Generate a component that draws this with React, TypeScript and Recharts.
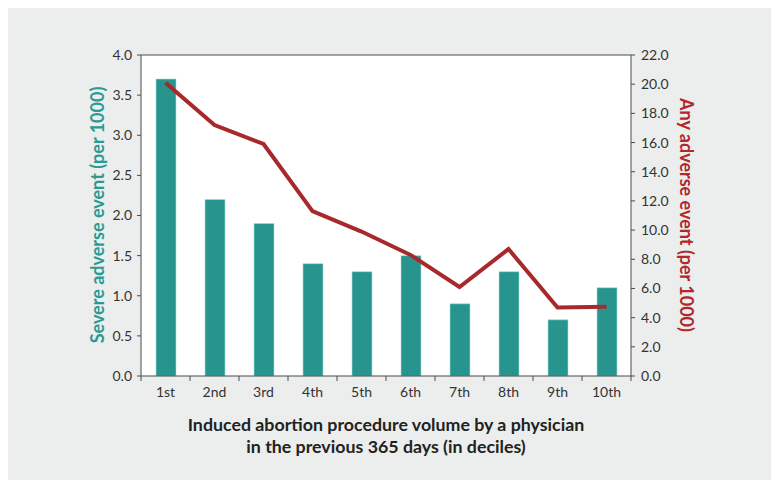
import React from 'react';
import { ComposedChart, Bar, Line, XAxis, YAxis, CartesianGrid, ReferenceLine } from 'recharts';

const deciles = ['1st', '2nd', '3rd', '4th', '5th', '6th', '7th', '8th', '9th', '10th'];
const severe = [3.7, 2.2, 1.9, 1.4, 1.3, 1.5, 0.9, 1.3, 0.7, 1.1];
const anyEvent = [20.1, 17.2, 15.9, 11.3, 9.9, 8.3, 6.1, 8.7, 4.7, 4.75];
const leftTicks = [0, 0.5, 1, 1.5, 2, 2.5, 3, 3.5, 4];
const rightTicks = [0, 2, 4, 6, 8, 10, 12, 14, 16, 18, 20, 22];

const data = deciles.map((d, i) => ({ decile: d, severe: severe[i], any: anyEvent[i] }));

const W = 763;
const H = 472;
const margin = { top: 47, right: 80, bottom: 74, left: 73 };
const YW = 60;
const XH = 30;
const plotW = W - margin.left - margin.right - 2 * YW;
const band = plotW / deciles.length;
const FONT = 'Lato, "Open Sans", sans-serif';
const AXIS = '#4a4a4a';

const XTick = (props: any) => {
  const { x, y, payload, index } = props;
  const y0 = y - 11;
  return (
    <g>
      <line x1={x - band / 2} x2={x - band / 2} y1={y0} y2={y0 + 5} stroke={AXIS} />
      {index === deciles.length - 1 && (
        <line x1={x + band / 2} x2={x + band / 2} y1={y0} y2={y0 + 5} stroke={AXIS} />
      )}
      <text x={x} y={y} dy="0.71em" textAnchor="middle" fill="#333" fontSize={14} fontFamily={FONT}>
        {payload.value}
      </text>
    </g>
  );
};

export default function App() {
  return (
    <div style={{ position: 'relative', width: W, height: H, background: '#eceeed' }}>
      <ComposedChart width={W} height={H} data={data} margin={margin}>
        <CartesianGrid fill="#ffffff" horizontal={false} vertical={false} yAxisId="left" />
        <XAxis
          dataKey="decile"
          height={XH}
          tickLine={false}
          tickSize={5}
          tickMargin={6}
          axisLine={{ stroke: AXIS }}
          tick={<XTick />}
          interval={0}
        />
        <YAxis
          yAxisId="left"
          orientation="left"
          width={YW}
          domain={[0, 4]}
          ticks={leftTicks}
          tickFormatter={(v: number) => v.toFixed(1)}
          tickSize={4}
          tickMargin={5}
          axisLine={{ stroke: AXIS }}
          tickLine={{ stroke: AXIS }}
          tick={{ fill: '#333', fontSize: 14, fontFamily: FONT }}
        />
        <YAxis
          yAxisId="right"
          orientation="right"
          width={YW}
          domain={[0, 22]}
          ticks={rightTicks}
          tickFormatter={(v: number) => v.toFixed(1)}
          tickSize={4}
          tickMargin={6}
          axisLine={{ stroke: AXIS }}
          tickLine={{ stroke: AXIS }}
          tick={{ fill: '#333', fontSize: 14, fontFamily: FONT, textAnchor: 'start' }}
        />
        <ReferenceLine yAxisId="left" y={4} stroke={AXIS} />
        <Bar
          yAxisId="left"
          dataKey="severe"
          fill="#27958e"
          stroke="#a8ddd9"
          strokeWidth={0.6}
          barSize={20}
          isAnimationActive={false}
        />
        <Line
          yAxisId="right"
          dataKey="any"
          stroke="#a8292b"
          strokeWidth={4}
          dot={false}
          activeDot={false}
          type="linear"
          isAnimationActive={false}
        />
      </ComposedChart>
      <svg
        width={W}
        height={H}
        style={{ position: 'absolute', left: 0, top: 0, pointerEvents: 'none' }}
        fontFamily={FONT}
      >
        <text
          transform="translate(89,207) rotate(-90)"
          textAnchor="middle"
          dominantBaseline="central"
          fill="#2a9a93"
          fontWeight="bold"
          fontSize={18}
        >
          Severe adverse event (per 1000)
        </text>
        <text
          transform="translate(679,207) rotate(90)"
          textAnchor="middle"
          dominantBaseline="central"
          fill="#b3262a"
          fontWeight="bold"
          fontSize={18}
        >
          Any adverse event (per 1000)
        </text>
        <text x={378} y={423} textAnchor="middle" fill="#222" fontWeight="bold" fontSize={17.8}>
          Induced abortion procedure volume by a physician
        </text>
        <text x={378} y={445} textAnchor="middle" fill="#222" fontWeight="bold" fontSize={17.8}>
          in the previous 365 days (in deciles)
        </text>
      </svg>
    </div>
  );
}
